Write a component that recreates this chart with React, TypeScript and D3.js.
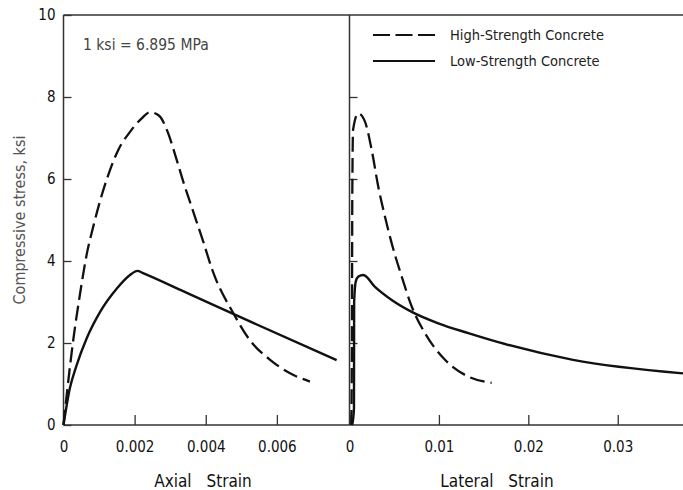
import React, { useRef, useEffect } from 'react';
import * as d3 from 'd3';

// strain (in/in) vs compressive stress (ksi)
const axialHighStrain = [0, 0.00009, 0.00028, 0.00046, 0.00065, 0.00084, 0.00103, 0.00126, 0.00154, 0.00187, 0.0022, 0.00243, 0.00268, 0.00295, 0.00314, 0.00337, 0.00365, 0.00393, 0.00421, 0.00478, 0.00524, 0.00581, 0.00637, 0.00693];
const axialHighStress = [0, 0.73, 2.11, 3.17, 4.15, 4.85, 5.47, 6.1, 6.71, 7.15, 7.48, 7.63, 7.55, 7.1, 6.59, 5.93, 5.2, 4.47, 3.72, 2.72, 2.07, 1.59, 1.26, 1.06];

const axialLowStrain = [0, 0.00018, 0.00037, 0.00065, 0.00103, 0.0015, 0.00187, 0.00208, 0.00222, 0.0035, 0.00482, 0.00768];
const axialLowStress = [0, 0.9, 1.46, 2.11, 2.76, 3.33, 3.66, 3.76, 3.71, 3.21, 2.69, 1.58];

const lateralHighStrain = [0.0002, 0.00028, 0.00031, 0.0004, 0.00098, 0.00173, 0.00248, 0.00322, 0.00397, 0.00472, 0.00584, 0.00696, 0.00844, 0.01068, 0.01329, 0.0159];
const lateralHighStress = [0, 2.5, 5.5, 7.2, 7.6, 7.4, 6.71, 5.81, 5.08, 4.43, 3.62, 2.89, 2.24, 1.59, 1.18, 1.03];

const lateralLowStrain = [0.0003, 0.0005, 0.00052, 0.0007, 0.001, 0.00154, 0.00285, 0.00472, 0.00696, 0.00993, 0.01329, 0.01664, 0.025, 0.0373];
const lateralLowStress = [0, 0.4, 3.0, 3.5, 3.62, 3.66, 3.37, 3.05, 2.76, 2.48, 2.24, 2.02, 1.59, 1.26];

const stressTicks = [0, 2, 4, 6, 8, 10];
const axialTicks = [0, 0.002, 0.004, 0.006];
const lateralTicks = [0, 0.01, 0.02, 0.03];

const seriesNames = ['High-Strength Concrete', 'Low-Strength Concrete'];

const FONT = '"DejaVu Sans", sans-serif';

const App = () => {
    const svgRef = useRef<SVGSVGElement>(null);

    useEffect(() => {
        const width = 683;
        const height = 490;

        const svg = d3.select(svgRef.current)
            .attr('width', width)
            .attr('height', height)
            .attr('viewBox', `0 0 ${width} ${height}`);

        svg.selectAll('*').remove();

        // scales
        const y = d3.scaleLinear().domain([0, 10]).range([425, 15]);
        const xL = d3.scaleLinear().domain([0, 0.008]).range([63.5, 348]);
        const xR = d3.scaleLinear().domain([0, 0.0373]).range([349.5, 683]);

        const axisColor = '#333';

        // frame: top border, left border, divider, bottom axis line
        const frame = svg.append('g').attr('stroke', axisColor).attr('stroke-width', 1.5);
        frame.append('line').attr('x1', xL(0)).attr('x2', xR(0.0373)).attr('y1', y(10)).attr('y2', y(10));
        frame.append('line').attr('x1', xL(0)).attr('x2', xL(0)).attr('y1', y(0)).attr('y2', y(10));
        frame.append('line').attr('x1', xR(0)).attr('x2', xR(0)).attr('y1', y(0)).attr('y2', y(10));
        frame.append('line').attr('x1', xL(0)).attr('x2', xR(0.0373)).attr('y1', y(0)).attr('y2', y(0));

        const styleAxis = g => {
            g.select('.domain').remove();
            g.selectAll('.tick line').attr('stroke', axisColor).attr('stroke-width', 1.3);
            g.selectAll('.tick text')
                .attr('fill', '#111')
                .style('font-family', FONT)
                .style('font-stretch', 'condensed')
                .style('font-size', '15px');
        };

        // y axis (ticks pointing inward)
        svg.append('g')
            .attr('transform', `translate(${xL(0)},0)`)
            .call(d3.axisLeft(y).tickValues(stressTicks).tickSize(-8).tickPadding(8).tickFormat(d3.format('d')))
            .call(styleAxis);

        // inward ticks on the divider
        svg.append('g')
            .attr('transform', `translate(${xR(0)},0)`)
            .call(d3.axisRight(y).tickValues([2, 4, 6, 8]).tickSize(8).tickFormat(() => ''))
            .call(styleAxis);

        // x axes
        svg.append('g')
            .attr('transform', `translate(0,${y(0)})`)
            .call(d3.axisBottom(xL).tickValues(axialTicks).tickSize(-10).tickPadding(16)
                .tickFormat(d => (d === 0 ? '0' : d3.format('.3f')(d))))
            .call(styleAxis);

        svg.append('g')
            .attr('transform', `translate(0,${y(0)})`)
            .call(d3.axisBottom(xR).tickValues(lateralTicks).tickSize(-10).tickPadding(16)
                .tickFormat(d => (d === 0 ? '0' : d3.format('.2f')(d))))
            .call(styleAxis);

        // curves
        const lineL = d3.line<[number, number]>()
            .x(d => xL(d[0]))
            .y(d => y(d[1]))
            .curve(d3.curveMonotoneX);
        const lineR = d3.line<[number, number]>()
            .x(d => xR(d[0]))
            .y(d => y(d[1]))
            .curve(d3.curveMonotoneX);

        const zip = (a, b) => a.map((v, i) => [v, b[i]]);

        const curves = [
            { data: zip(axialHighStrain, axialHighStress), line: lineL, dashed: true },
            { data: zip(axialLowStrain, axialLowStress), line: lineL, dashed: false },
            { data: zip(lateralHighStrain, lateralHighStress), line: lineR, dashed: true },
            { data: zip(lateralLowStrain, lateralLowStress), line: lineR, dashed: false },
        ];

        curves.forEach(c => {
            svg.append('path')
                .datum(c.data)
                .attr('fill', 'none')
                .attr('stroke', '#111')
                .attr('stroke-width', c.dashed ? 2.3 : 2.4)
                .attr('stroke-dasharray', c.dashed ? '15,6' : null)
                .attr('stroke-linejoin', 'round')
                .attr('d', c.line);
        });

        // legend
        const legend = svg.append('g').style('font-family', FONT).style('font-stretch', 'condensed');
        seriesNames.forEach((name, i) => {
            const ly = 35 + i * 26;
            legend.append('line')
                .attr('x1', 373).attr('x2', 435).attr('y1', ly).attr('y2', ly)
                .attr('stroke', '#111').attr('stroke-width', 2.2)
                .attr('stroke-dasharray', i === 0 ? '17,5.5' : null);
            legend.append('text')
                .attr('x', 450).attr('y', ly + 5)
                .attr('fill', '#222')
                .style('font-size', '14.5px')
                .text(name);
        });

        // note
        svg.append('text')
            .attr('x', 83).attr('y', 50)
            .attr('fill', '#444')
            .style('font-family', FONT)
            .style('font-stretch', 'condensed')
            .style('font-size', '15.5px')
            .text('1 ksi = 6.895 MPa');

        // axis titles
        svg.append('text')
            .attr('transform', `translate(25,${y(5)}) rotate(-90)`)
            .attr('text-anchor', 'middle')
            .attr('fill', '#555')
            .style('font-family', FONT)
            .style('font-stretch', 'condensed')
            .style('font-size', '16px')
            .text('Compressive stress, ksi');

        svg.append('text')
            .attr('x', 203).attr('y', 487)
            .attr('text-anchor', 'middle')
            .attr('fill', '#111')
            .style('font-family', FONT)
            .style('font-stretch', 'condensed')
            .style('font-size', '17px')
            .style('word-spacing', '10px')
            .text('Axial Strain');

        svg.append('text')
            .attr('x', 497).attr('y', 487)
            .attr('text-anchor', 'middle')
            .attr('fill', '#111')
            .style('font-family', FONT)
            .style('font-stretch', 'condensed')
            .style('font-size', '17px')
            .style('word-spacing', '10px')
            .text('Lateral Strain');
    }, []);

    return (
        <svg ref={svgRef} style={{ position: 'absolute', left: 0, top: 0, background: '#fff' }}></svg>
    );
};

export default App;
